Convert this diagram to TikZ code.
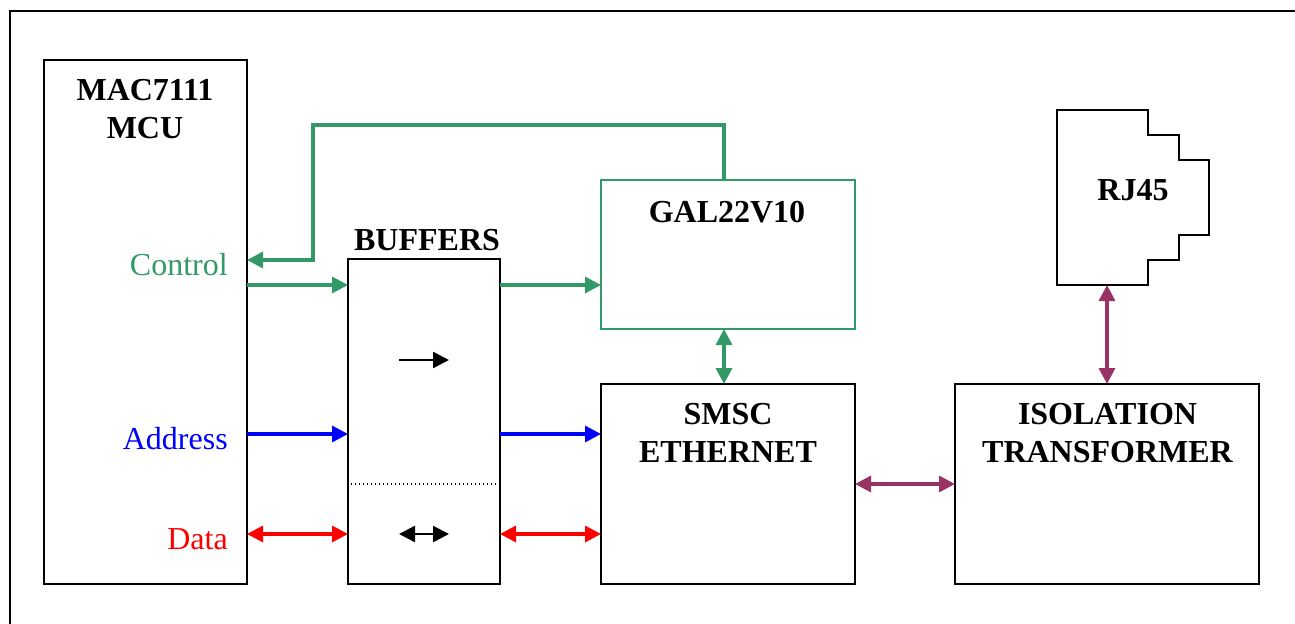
\documentclass[tikz,border=0pt]{standalone}
\usepackage{fontspec}
\usepackage{xcolor}
\setmainfont{Liberation Serif}
\usetikzlibrary{arrows.meta}
\definecolor{ctrlgreen}{RGB}{51,153,102}
\definecolor{linkpurple}{RGB}{153,51,102}
\tikzset{
	block/.style={draw,line width=1.4pt,inner sep=0pt,outer sep=0pt},
	title/.style={font=\fontsize{24}{28.2}\selectfont\bfseries,align=center,inner sep=0pt,anchor=north},
	busname/.style={font=\fontsize{24}{28.2}\selectfont,inner sep=0pt,anchor=base east},
	bus/.style={line width=2.5pt,-{Triangle[length=12pt,width=12pt]}},
	twoway/.style={line width=2.5pt,{Triangle[length=12pt,width=12pt]}-{Triangle[length=12pt,width=12pt]}},
	mark arrow/.style={line width=1.8pt,black},
}
\begin{document}
\begin{tikzpicture}[x=0.75pt,y=-0.75pt]
	\useasboundingbox (0,0) rectangle (1295,624);
	% outer frame
	\draw [line width=1.4pt] (10,624)--(10,11)--(1295,11);
	% blocks
	\node [block,minimum width=152.25pt,minimum height=393pt] (mcu) at (145.5,322) {};
	\node [block,minimum width=114pt,minimum height=243.75pt] (buffers) at (424,421.5) {};
	\node [block,draw=ctrlgreen,minimum width=190.5pt,minimum height=111.75pt] (gal) at (728,254.5) {};
	\node [block,minimum width=190.5pt,minimum height=150pt] (smsc) at (728,484) {};
	\node [block,minimum width=228pt,minimum height=150pt] (iso) at (1107,484) {};
	\draw [line width=1.4pt] (1057,110)--(1148,110)--(1148,135)--(1179,135)--(1179,160)--(1209,160)
		--(1209,235)--(1179,235)--(1179,260)--(1148,260)--(1148,285)--(1057,285)--cycle;
	\coordinate (rjport) at (1107,285);
	% texts
	\node [title] (mcutext) at (145,79.5) {MAC7111\\MCU};
	\node [title] (buffertext) at (427,229.5) {BUFFERS};
	\node [title] (galtext) at (727,200.5) {GAL22V10};
	\node [title] (smsctext) at (728,403.5) {SMSC\\ETHERNET};
	\node [title] (isotext) at (1107.5,403.5) {ISOLATION\\TRANSFORMER};
	\node [title] (rjtext) at (1133,179) {RJ45};
	\node [busname,text=ctrlgreen] (ctrltext) at (228,275) {Control};
	\node [busname,text=blue] (addrtext) at (228,449) {Address};
	\node [busname,text=red] (datatext) at (228,549) {Data};
	% bus heights
	\coordinate (ctrlback) at (313,260);
	\coordinate (ctrlbus) at (0,285);
	\coordinate (addrbus) at (0,434);
	\coordinate (databus) at (0,534);
	\coordinate (galup) at (724,125);
	% control
	\draw [bus,ctrlgreen] (gal.north -| galup)--(galup)--(ctrlback |- galup)--(ctrlback)--(mcu.east |- ctrlback);
	\draw [bus,ctrlgreen] (mcu.east |- ctrlbus)--(buffers.west |- ctrlbus);
	\draw [bus,ctrlgreen] (buffers.east |- ctrlbus)--(gal.west |- ctrlbus);
	\draw [twoway,ctrlgreen] (gal.south -| galup)--(smsc.north -| galup);
	% address
	\draw [bus,blue] (mcu.east |- addrbus)--(buffers.west |- addrbus);
	\draw [bus,blue] (buffers.east |- addrbus)--(smsc.west |- addrbus);
	% data
	\draw [twoway,red] (mcu.east |- databus)--(buffers.west |- databus);
	\draw [twoway,red] (buffers.east |- databus)--(smsc.west |- databus);
	% ethernet side
	\draw [twoway,linkpurple] (smsc.east)--(iso.west);
	\draw [twoway,linkpurple] (iso.north -| rjport)--(rjport);
	% inside the buffers
	\coordinate (dirleft) at (399,360);
	\coordinate (dirright) at (449,360);
	\coordinate (bothleft) at (399,534);
	\coordinate (bothright) at (449,534);
	\draw [mark arrow,-{Triangle[length=12pt,width=12pt]}] (dirleft)--(dirright);
	\draw [mark arrow,{Triangle[length=12pt,width=12pt]}-{Triangle[length=12pt,width=12pt]}] (bothleft)--(bothright);
	\coordinate (splitleft) at (351,484);
	\coordinate (splitright) at (497,484);
	\draw [line width=1pt,dash pattern=on 1pt off 2pt] (splitleft)--(splitright);
\end{tikzpicture}
\end{document}
